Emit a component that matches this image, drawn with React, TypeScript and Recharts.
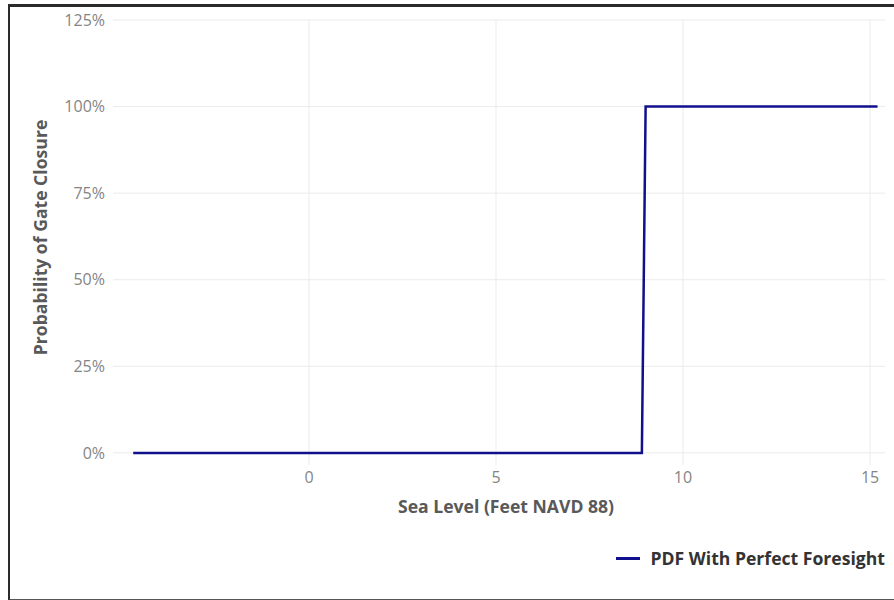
import { LineChart, Line, XAxis, YAxis, ReferenceLine, Legend } from 'recharts';

// Sea level (ft NAVD 88) vs probability of gate closure
const seaLevel = [-4.7, 8.9, 9.0, 15.2];
const closureProb = [0, 0, 1, 1];
const xTicks = [0, 5, 10, 15];
const yTicks = [0, 0.25, 0.5, 0.75, 1, 1.25];
const seriesName = 'PDF With Perfect Foresight';

const data = seaLevel.map((x, i) => ({ x, p: closureProb[i] }));

const LINE_COLOR = '#10108c';
const GRID_COLOR = '#ebebeb';
const FONT = '"Open Sans", sans-serif';

const LegendContent = () => (
    <div style={{ display: 'flex', alignItems: 'center', justifyContent: 'flex-end', height: 24, fontFamily: FONT }}>
        <div style={{ width: 24, height: 3, background: LINE_COLOR, marginRight: 10 }} />
        <span style={{ fontSize: 17.6, fontWeight: 700, color: '#333' }}>{seriesName}</span>
    </div>
);

export default function App() {
    return (
        <div style={{ position: 'relative', width: 894, height: 600, overflow: 'hidden', background: '#fff' }}>
            <style>{'body{margin:0;overflow:hidden}'}</style>
            <LineChart
                width={894}
                height={600}
                data={data}
                margin={{ top: 20, right: 9, left: 33, bottom: 30 }}
                style={{ fontFamily: FONT }}
            >
                <XAxis
                    type="number"
                    dataKey="x"
                    domain={[-5.24, 15.4]}
                    ticks={xTicks}
                    allowDataOverflow
                    axisLine={false}
                    tickLine={false}
                    tickSize={7}
                    tickMargin={0}
                    height={81}
                    tick={{ fill: '#858585', fontSize: 16 }}
                    label={{
                        value: 'Sea Level (Feet NAVD 88)',
                        position: 'insideTop',
                        offset: 36,
                        dx: 7,
                        style: { fill: '#595959', fontSize: 17.6, fontWeight: 700 },
                    }}
                />
                <YAxis
                    type="number"
                    domain={[-0.035, 1.25]}
                    ticks={yTicks}
                    allowDataOverflow
                    axisLine={false}
                    tickLine={false}
                    width={80}
                    tick={{ fill: '#858585', fontSize: 16 }}
                    tickFormatter={(v: number) => `${Math.round(v * 100)}%`}
                    label={{
                        value: 'Probability of Gate Closure',
                        angle: -90,
                        position: 'insideLeft',
                        offset: 8,
                        dy: -5,
                        style: { textAnchor: 'middle', fill: '#595959', fontSize: 17.6, fontWeight: 700 },
                    }}
                />
                {yTicks.map((t) => (
                    <ReferenceLine key={`gy-${t}`} y={t} stroke={GRID_COLOR} strokeWidth={1} />
                ))}
                {xTicks.map((t) => (
                    <ReferenceLine key={`gx-${t}`} x={t} stroke={GRID_COLOR} strokeWidth={1} />
                ))}
                <Legend verticalAlign="bottom" align="right" content={<LegendContent />} />
                <Line
                    type="linear"
                    dataKey="p"
                    name={seriesName}
                    stroke={LINE_COLOR}
                    strokeWidth={2.5}
                    dot={false}
                    activeDot={false}
                    isAnimationActive={false}
                />
            </LineChart>
            <div
                style={{
                    position: 'absolute',
                    left: 8,
                    top: 4,
                    width: 886,
                    height: 592,
                    borderLeft: '2px solid #2b2b2b',
                    borderTop: '3px solid #2b2b2b',
                    borderBottom: '2px solid #555',
                    pointerEvents: 'none',
                }}
            />
        </div>
    );
}
